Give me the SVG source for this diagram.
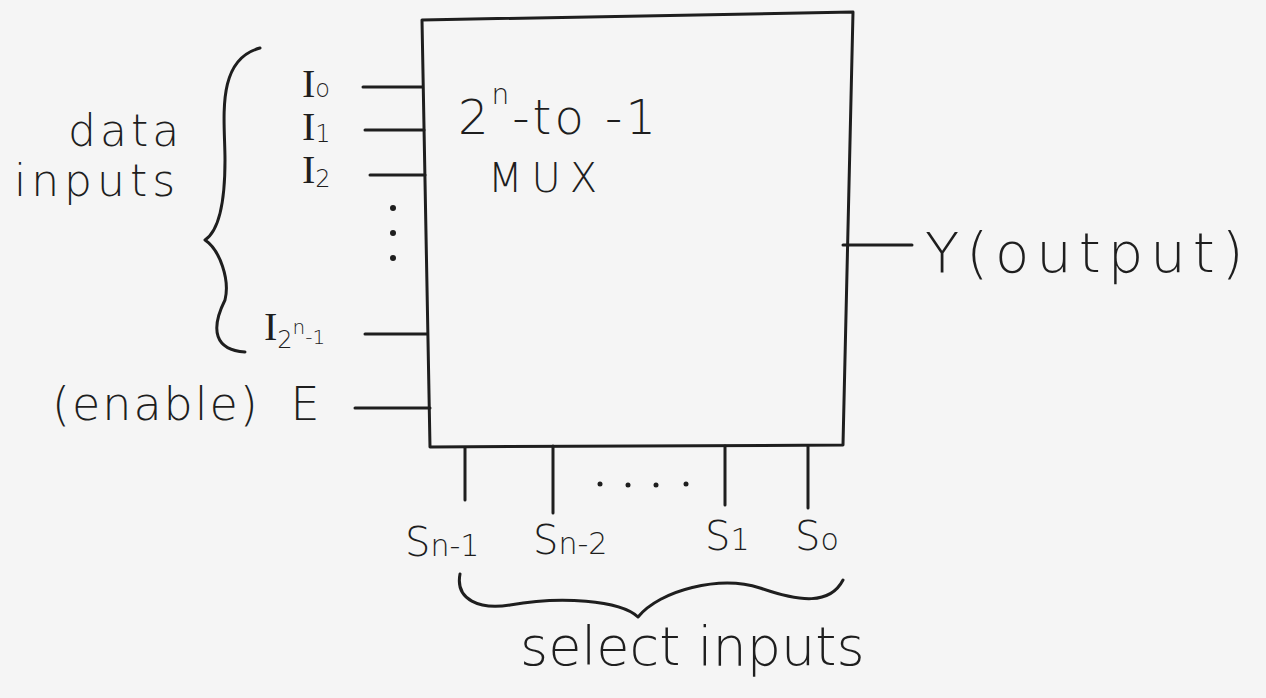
<svg xmlns="http://www.w3.org/2000/svg" width="1266" height="698" viewBox="0 0 1266 698">
<style>
.ln{stroke:#1e1e1e;stroke-width:3;fill:none;stroke-linecap:round;stroke-linejoin:round}
.t{font-family:"DejaVu Sans",sans-serif;fill:#1e1e1e;font-weight:300}
.i{font-family:"Liberation Serif",serif;fill:#1e1e1e;font-size:40px}
.s{font-family:"DejaVu Sans",sans-serif;font-size:24px;font-weight:300}
.ss{font-family:"DejaVu Sans",sans-serif;font-size:20px;font-weight:300}
.dot{fill:#1e1e1e}
</style>
<rect width="1266" height="698" fill="#f5f5f5"/>
<g id="mux">
<path class="ln" d="M422,20 L853,12 L843,445 L430,447 Z"/>
<text class="t" x="458" y="134" font-size="48" letter-spacing="3">2<tspan font-size="28" dy="-30">n</tspan><tspan dy="30">-to -1</tspan></text>
<text class="t" x="488" y="192" font-size="40" letter-spacing="9">MUX</text>
</g>
<g id="connectors">
<path class="ln" d="M363,87 H422 M365,130 H424 M370,175 H425 M365,334 H427 M355,408 H430"/>
<path class="ln" d="M843,245 H912"/>
<path class="ln" d="M465,448 V500 M553,446 V513 M725,446 V505 M808,446 V508"/>
</g>
<g id="data-inputs">
<path class="ln" d="M260,48 C215,60 225,120 225,160 C225,200 220,230 205,240 C220,250 230,280 225,300 C210,330 215,350 245,352"/>
<text class="t" x="68" y="146" font-size="44" letter-spacing="4">data</text>
<text class="t" x="14" y="196" font-size="44" letter-spacing="5">inputs</text>
<text class="i" x="302" y="97">I<tspan class="s" dy="0">o</tspan></text>
<text class="i" x="302" y="140">I<tspan class="s" dy="2">1</tspan></text>
<text class="i" x="302" y="183">I<tspan class="s" dy="4">2</tspan></text>
<text class="i" x="264" y="340">I<tspan class="s" dy="8">2</tspan><tspan class="ss" dy="-14">n</tspan><tspan class="ss" dy="10">-1</tspan></text>
<circle class="dot" cx="393" cy="208" r="3"/>
<circle class="dot" cx="393" cy="233" r="3"/>
<circle class="dot" cx="393" cy="258" r="3"/>
</g>
<g id="enable">
<text class="t" x="52" y="420" font-size="46" letter-spacing="2" word-spacing="14">(enable) E</text>
</g>
<g id="output">
<text class="t" x="925" y="272" font-size="56" letter-spacing="7">Y(output)</text>
</g>
<g id="select-inputs">
<circle class="dot" cx="600" cy="484" r="2.5"/>
<circle class="dot" cx="628" cy="485" r="2.5"/>
<circle class="dot" cx="656" cy="485" r="2.5"/>
<circle class="dot" cx="686" cy="484" r="2.5"/>
<text class="t" x="405" y="556" font-size="40">S<tspan font-size="30">n-1</tspan></text>
<text class="t" x="533" y="554" font-size="40">S<tspan font-size="30">n-2</tspan></text>
<text class="t" x="705" y="550" font-size="40">S<tspan font-size="30">1</tspan></text>
<text class="t" x="795" y="550" font-size="40">S<tspan font-size="30">o</tspan></text>
<path class="ln" d="M460,574 C455,600 480,610 510,605 C560,596 620,600 638,617 C660,590 720,575 760,588 C800,602 830,605 843,580"/>
<text class="t" x="520" y="665" font-size="54">select inputs</text>
</g>
</svg>
